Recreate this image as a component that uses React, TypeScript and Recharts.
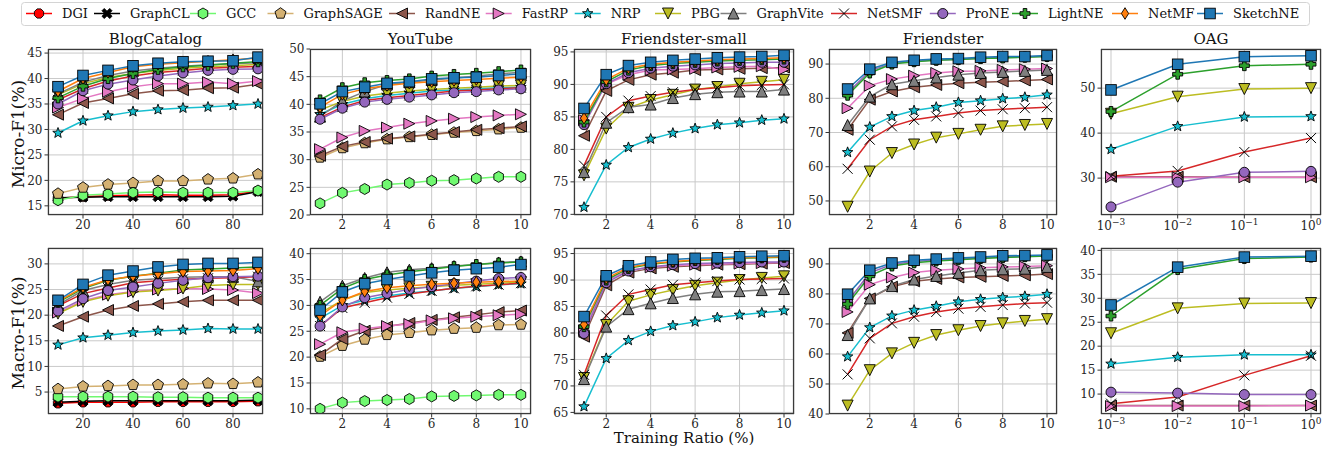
import React from "react";
import { LineChart, Line, XAxis, YAxis, CartesianGrid } from "recharts";

const FONT = "DejaVu Serif";

const methods = ["DGI", "GraphCL", "GCC", "GraphSAGE", "RandNE", "FastRP", "NRP", "PBG", "GraphVite", "NetSMF", "ProNE", "LightNE", "NetMF", "SketchNE"];
const colors: Record<string, string> = {
  DGI: "#ff0000", GraphCL: "#000000", GCC: "#70f870", GraphSAGE: "#d4b172", RandNE: "#8c564b",
  FastRP: "#e377c2", NRP: "#17becf", PBG: "#bcbd22", GraphVite: "#7f7f7f", NetSMF: "#d62728",
  ProNE: "#9467bd", LightNE: "#2ca02c", NetMF: "#ff7f0e", SketchNE: "#1f77b4",
};
const markers: Record<string, string> = {
  DGI: "octagon", GraphCL: "Xfill", GCC: "hexagon", GraphSAGE: "pentagon", RandNE: "left",
  FastRP: "right", NRP: "star", PBG: "down", GraphVite: "up", NetSMF: "x",
  ProNE: "circle", LightNE: "plus", NetMF: "diamond", SketchNE: "square",
};

// x values
const blogX = [10, 20, 30, 40, 50, 60, 70, 80, 90];
const ratioX = [1, 2, 3, 4, 5, 6, 7, 8, 9, 10];
const oagX = [0.001, 0.01, 0.1, 1];

// Micro-F1
const blogMicro: Record<string, number[]> = {
  DGI: [16.5, 16.8, 17.0, 17.1, 17.2, 17.1, 17.1, 17.2, 17.9],
  GraphCL: [16.6, 16.7, 16.8, 16.8, 16.8, 16.8, 16.8, 16.9, 17.8],
  GCC: [16.1, 17.1, 17.3, 17.6, 17.7, 17.6, 17.6, 17.6, 18.0],
  GraphSAGE: [17.4, 18.6, 19.2, 19.5, 19.9, 19.9, 20.2, 20.4, 21.2],
  RandNE: [32.9, 35.2, 36.1, 37.0, 37.6, 37.7, 38.1, 38.2, 38.9],
  FastRP: [34.3, 36.1, 37.4, 38.4, 39.0, 39.0, 39.3, 39.0, 39.5],
  NRP: [29.3, 31.7, 32.7, 33.5, 33.9, 34.2, 34.4, 34.7, 35.0],
  PBG: [36.8, 39.0, 40.2, 41.0, 41.6, 42.0, 42.3, 42.5, 42.8],
  GraphVite: [37.0, 39.3, 40.6, 41.5, 42.0, 42.4, 42.7, 42.9, 43.1],
  NetSMF: [35.8, 38.0, 39.5, 40.5, 41.2, 41.6, 42.0, 42.2, 42.4],
  ProNE: [35.0, 37.6, 38.9, 39.7, 40.5, 41.1, 41.6, 41.8, 41.9],
  LightNE: [36.2, 38.5, 40.0, 41.0, 41.8, 42.3, 42.6, 43.0, 43.3],
  NetMF: [37.5, 40.0, 41.2, 42.3, 42.8, 43.1, 43.4, 43.7, 44.0],
  SketchNE: [38.4, 40.6, 41.6, 42.5, 43.0, 43.3, 43.4, 43.5, 44.2],
};
const youtubeMicro: Record<string, number[]> = {
  GCC: [22.1, 24.0, 24.7, 25.5, 25.8, 26.2, 26.3, 26.6, 26.9, 26.9],
  GraphSAGE: [30.4, 32.1, 33.0, 33.7, 34.1, 34.5, 34.9, 35.2, 35.5, 35.8],
  RandNE: [30.7, 32.4, 33.2, 33.8, 34.2, 34.6, 35.0, 35.4, 35.7, 36.0],
  FastRP: [31.9, 34.0, 35.2, 35.8, 36.5, 37.0, 37.4, 37.7, 38.0, 38.2],
  NRP: [38.2, 40.0, 41.0, 41.6, 42.0, 42.4, 42.6, 42.8, 43.0, 43.1],
  PBG: [39.0, 40.5, 41.5, 42.0, 42.4, 42.7, 42.9, 43.1, 43.3, 43.4],
  GraphVite: [37.8, 40.6, 42.3, 43.6, 44.0, 44.4, 44.7, 45.1, 45.5, 45.8],
  NetSMF: [37.6, 39.5, 40.7, 41.2, 41.6, 42.0, 42.4, 42.6, 42.8, 43.0],
  ProNE: [37.3, 39.3, 40.4, 40.9, 41.3, 41.7, 42.1, 42.3, 42.6, 42.8],
  LightNE: [40.8, 43.0, 43.9, 44.3, 44.6, 45.1, 45.4, 45.6, 45.9, 46.2],
  NetMF: [39.5, 41.8, 42.8, 43.4, 43.8, 44.1, 44.3, 44.5, 44.7, 44.9],
  SketchNE: [40.1, 42.3, 43.1, 43.8, 44.1, 44.6, 44.8, 44.9, 45.2, 45.5],
};
const fsmallMicro: Record<string, number[]> = {
  RandNE: [82.1, 89.0, 90.7, 91.5, 91.8, 92.2, 92.3, 92.4, 92.5, 92.6],
  FastRP: [84.5, 90.0, 91.5, 92.2, 92.3, 92.4, 92.6, 92.7, 92.8, 92.3],
  NRP: [71.1, 77.6, 80.3, 81.6, 82.5, 83.2, 83.8, 84.1, 84.5, 84.7],
  PBG: [76.0, 83.2, 86.4, 87.6, 88.4, 89.2, 89.6, 90.1, 90.4, 90.7],
  GraphVite: [76.5, 84.1, 86.5, 86.9, 87.9, 88.5, 88.8, 88.9, 88.9, 89.2],
  NetSMF: [77.5, 85.0, 87.5, 88.2, 88.8, 89.2, 89.5, 89.8, 89.9, 90.0],
  ProNE: [83.8, 90.1, 91.8, 92.5, 92.8, 93.0, 93.2, 93.3, 93.4, 93.4],
  LightNE: [84.2, 90.4, 92.2, 92.9, 93.2, 93.4, 93.6, 93.7, 93.8, 93.9],
  NetMF: [84.8, 90.7, 92.5, 93.1, 93.4, 93.6, 93.8, 93.9, 94.0, 94.1],
  SketchNE: [86.3, 91.5, 92.9, 93.4, 93.7, 93.9, 94.1, 94.2, 94.3, 94.5],
};
const friendsterMicro: Record<string, number[]> = {
  RandNE: [70.8, 79.6, 82.0, 83.2, 83.9, 84.4, 84.7, 84.9, 85.2, 85.5],
  FastRP: [77.1, 83.7, 85.6, 86.6, 87.4, 87.9, 88.0, 88.3, 88.5, 88.7],
  NRP: [64.2, 71.6, 74.7, 76.4, 77.4, 78.8, 79.3, 79.9, 80.3, 81.0],
  PBG: [48.3, 58.6, 64.0, 66.5, 68.5, 69.6, 70.8, 71.8, 72.2, 72.5],
  GraphVite: [72.2, 80.5, 84.1, 85.1, 86.1, 86.9, 87.4, 87.7, 88.0, 88.3],
  NetSMF: [59.4, 67.9, 71.8, 73.7, 74.7, 75.7, 76.4, 76.8, 77.1, 77.4],
  ProNE: [81.5, 88.0, 90.2, 90.9, 91.2, 91.4, 91.7, 91.9, 92.1, 92.3],
  LightNE: [80.9, 87.4, 90.0, 90.7, 91.1, 91.3, 91.6, 91.8, 92.0, 92.2],
  SketchNE: [82.7, 88.5, 90.5, 91.1, 91.5, 91.6, 92.0, 92.2, 92.2, 92.5],
};
const oagMicro: Record<string, number[]> = {
  RandNE: [30.3, 30.3, 30.2, 30.2],
  FastRP: [30.2, 30.2, 30.2, 30.2],
  NRP: [36.4, 41.5, 43.6, 43.7],
  PBG: [44.3, 48.1, 49.8, 50.0],
  NetSMF: [30.4, 31.6, 35.8, 38.9],
  ProNE: [23.6, 29.1, 31.3, 31.5],
  LightNE: [44.8, 53.1, 55.0, 55.3],
  SketchNE: [49.6, 55.3, 57.0, 57.2],
};

// Macro-F1
const blogMacro: Record<string, number[]> = {
  DGI: [2.8, 3.0, 3.0, 3.0, 3.1, 3.1, 3.1, 3.1, 3.2],
  GraphCL: [3.0, 3.2, 3.3, 3.3, 3.3, 3.3, 3.3, 3.3, 3.4],
  GCC: [4.1, 4.1, 4.1, 4.1, 4.0, 4.0, 3.9, 3.9, 3.9],
  GraphSAGE: [5.6, 6.1, 6.2, 6.4, 6.4, 6.5, 6.7, 6.6, 6.9],
  RandNE: [17.9, 19.7, 21.0, 21.8, 22.2, 22.6, 22.9, 22.9, 22.9],
  FastRP: [20.5, 22.8, 24.0, 24.6, 25.0, 25.2, 25.1, 24.9, 24.3],
  NRP: [14.2, 15.6, 16.1, 16.6, 16.9, 17.1, 17.4, 17.3, 17.3],
  PBG: [20.3, 22.6, 23.8, 24.5, 24.8, 25.2, 25.8, 26.0, 26.0],
  GraphVite: [22.0, 24.8, 26.0, 26.8, 27.1, 27.4, 27.5, 27.5, 26.6],
  NetSMF: [21.8, 24.2, 25.3, 26.3, 26.7, 27.0, 27.2, 27.3, 27.5],
  ProNE: [20.8, 23.2, 24.8, 25.5, 26.2, 26.8, 27.3, 27.5, 27.6],
  LightNE: [22.5, 25.2, 26.8, 27.6, 28.2, 28.8, 29.0, 29.2, 29.4],
  NetMF: [22.7, 25.4, 26.9, 27.6, 28.1, 28.5, 28.6, 28.7, 29.1],
  SketchNE: [22.9, 26.0, 27.8, 28.6, 29.4, 29.9, 30.1, 30.1, 30.3],
};
const youtubeMacro: Record<string, number[]> = {
  GCC: [10.0, 11.2, 11.5, 11.7, 11.9, 12.4, 12.5, 12.6, 12.7, 12.7],
  GraphSAGE: [20.1, 22.2, 23.4, 24.3, 24.7, 25.2, 25.5, 25.7, 26.2, 26.3],
  RandNE: [20.4, 23.5, 25.1, 25.9, 26.6, 27.2, 27.7, 28.2, 28.7, 29.0],
  FastRP: [22.5, 24.8, 25.5, 26.0, 26.4, 27.1, 27.5, 27.8, 28.1, 28.3],
  NRP: [27.5, 30.0, 31.0, 31.8, 32.4, 32.8, 33.3, 33.6, 34.0, 34.2],
  PBG: [28.5, 31.0, 32.5, 33.0, 33.3, 33.6, 33.9, 34.1, 34.3, 34.5],
  GraphVite: [30.7, 33.8, 35.3, 36.4, 36.9, 37.2, 37.6, 37.9, 38.3, 38.5],
  NetSMF: [26.0, 29.5, 30.5, 31.5, 32.2, 32.8, 33.3, 33.7, 34.0, 34.3],
  ProNE: [26.0, 29.7, 31.5, 32.3, 33.1, 33.6, 34.2, 34.7, 35.2, 35.4],
  LightNE: [30.0, 33.3, 35.0, 35.9, 36.5, 37.0, 37.5, 37.9, 38.2, 38.4],
  NetMF: [28.0, 31.0, 32.7, 33.4, 33.8, 34.1, 34.3, 34.5, 34.6, 34.7],
  SketchNE: [29.1, 32.6, 34.2, 35.0, 35.7, 36.3, 36.8, 37.1, 37.4, 37.9],
};
const fsmallMacro: Record<string, number[]> = {
  RandNE: [79.3, 89.0, 91.4, 92.2, 92.5, 92.7, 92.9, 93.0, 93.1, 93.2],
  FastRP: [80.5, 89.8, 91.8, 92.4, 92.7, 92.9, 93.0, 93.1, 93.2, 93.3],
  NRP: [66.1, 75.2, 78.6, 80.3, 81.4, 82.1, 82.9, 83.4, 83.8, 84.2],
  PBG: [71.5, 81.5, 86.0, 87.2, 88.1, 88.9, 89.5, 90.0, 90.4, 90.7],
  GraphVite: [71.3, 81.2, 84.5, 85.6, 86.6, 87.3, 87.8, 87.9, 88.1, 88.3],
  NetSMF: [72.1, 83.3, 87.3, 88.2, 89.1, 89.5, 89.8, 90.1, 90.2, 90.3],
  ProNE: [79.9, 89.5, 91.7, 92.5, 92.9, 93.1, 93.2, 93.3, 93.4, 93.4],
  LightNE: [81.2, 90.0, 92.2, 93.0, 93.4, 93.7, 93.9, 94.1, 94.2, 94.3],
  NetMF: [81.6, 90.3, 92.4, 93.1, 93.5, 93.8, 94.0, 94.2, 94.3, 94.4],
  SketchNE: [83.1, 90.8, 92.7, 93.4, 93.9, 94.1, 94.2, 94.4, 94.5, 94.6],
};
const friendsterMacro: Record<string, number[]> = {
  RandNE: [67.0, 78.5, 82.4, 84.2, 85.0, 85.5, 85.7, 86.0, 86.2, 86.6],
  FastRP: [74.0, 83.1, 85.5, 87.1, 87.9, 88.3, 88.7, 89.0, 89.1, 89.4],
  NRP: [59.1, 68.8, 72.7, 74.6, 75.9, 77.4, 78.2, 78.8, 79.2, 79.9],
  PBG: [42.8, 54.6, 60.2, 63.7, 66.3, 67.9, 69.3, 70.2, 71.0, 71.6],
  GraphVite: [66.3, 78.5, 82.6, 84.8, 86.0, 87.0, 87.9, 88.2, 88.4, 89.0],
  NetSMF: [53.2, 65.2, 70.2, 72.4, 74.0, 75.1, 75.7, 76.3, 76.8, 77.1],
  ProNE: [77.5, 87.0, 89.8, 90.8, 91.3, 91.7, 92.0, 92.3, 92.5, 92.7],
  LightNE: [76.6, 86.0, 89.3, 90.4, 91.0, 91.4, 91.8, 92.1, 92.4, 92.6],
  SketchNE: [79.9, 87.9, 90.3, 91.2, 91.6, 92.0, 92.3, 92.7, 92.8, 93.0],
};
const oagMacro: Record<string, number[]> = {
  RandNE: [7.6, 7.6, 7.6, 7.6],
  FastRP: [7.5, 7.5, 7.5, 7.6],
  NRP: [16.3, 17.7, 18.2, 18.2],
  PBG: [22.7, 27.9, 28.9, 29.0],
  NetSMF: [8.0, 9.4, 13.9, 18.0],
  ProNE: [10.4, 10.2, 9.9, 9.9],
  LightNE: [26.3, 36.0, 38.3, 38.6],
  SketchNE: [28.6, 36.5, 38.6, 38.8],
};

const blogTicks = [20, 40, 60, 80];
const ratioTicks = [2, 4, 6, 8, 10];
const oagTicks = [0.001, 0.01, 0.1, 1];
const oagMinor = [2, 3, 4, 5, 6, 7, 8, 9].flatMap((m) => [m * 0.001, m * 0.01, m * 0.1]);

type Panel = {
  title?: string; xs: number[]; vals: Record<string, number[]>;
  xDomain: [number, number]; xTicks: number[]; yDomain: [number, number]; yTicks: number[];
  left: number; top: number; w: number; h: number; log?: boolean;
};

const cols = [
  { left: 48, w: 215 },
  { left: 310, w: 221 },
  { left: 574, w: 220 },
  { left: 829, w: 228 },
  { left: 1101, w: 220 },
];
const rowTop = [49, 248];
const PH = 166;
const ratioDom: [number, number] = [0.55, 10.45];
const logDom: [number, number] = [Math.pow(10, -3.15), Math.pow(10, 0.15)];

const panels: Panel[] = [
  { title: "BlogCatalog", xs: blogX, vals: blogMicro, xDomain: [6, 92], xTicks: blogTicks, yDomain: [13.2, 45.8], yTicks: [15, 20, 25, 30, 35, 40, 45], ...cols[0], top: rowTop[0], h: PH },
  { title: "YouTube", xs: ratioX, vals: youtubeMicro, xDomain: ratioDom, xTicks: ratioTicks, yDomain: [20, 50], yTicks: [20, 25, 30, 35, 40, 45, 50], ...cols[1], top: rowTop[0], h: PH },
  { title: "Friendster-small", xs: ratioX, vals: fsmallMicro, xDomain: ratioDom, xTicks: ratioTicks, yDomain: [69.9, 95.45], yTicks: [70, 75, 80, 85, 90, 95], ...cols[2], top: rowTop[0], h: PH },
  { title: "Friendster", xs: ratioX, vals: friendsterMicro, xDomain: [0.16, 10.45], xTicks: ratioTicks, yDomain: [45.9, 94.4], yTicks: [50, 60, 70, 80, 90], ...cols[3], top: rowTop[0], h: PH },
  { title: "OAG", xs: oagX, vals: oagMicro, xDomain: logDom, xTicks: oagTicks, yDomain: [21.8, 58.7], yTicks: [30, 40, 50], ...cols[4], top: rowTop[0], h: PH, log: true },
  { xs: blogX, vals: blogMacro, xDomain: [6, 92], xTicks: blogTicks, yDomain: [0.72, 33.1], yTicks: [5, 10, 15, 20, 25, 30], ...cols[0], top: rowTop[1], h: PH },
  { xs: ratioX, vals: youtubeMacro, xDomain: ratioDom, xTicks: ratioTicks, yDomain: [9, 41.1], yTicks: [10, 15, 20, 25, 30, 35, 40], ...cols[1], top: rowTop[1], h: PH },
  { xs: ratioX, vals: fsmallMacro, xDomain: ratioDom, xTicks: ratioTicks, yDomain: [64.7, 96.05], yTicks: [65, 70, 75, 80, 85, 90, 95], ...cols[2], top: rowTop[1], h: PH },
  { xs: ratioX, vals: friendsterMacro, xDomain: [0.16, 10.45], xTicks: ratioTicks, yDomain: [40, 95.3], yTicks: [40, 50, 60, 70, 80, 90], ...cols[3], top: rowTop[1], h: PH },
  { xs: oagX, vals: oagMacro, xDomain: logDom, xTicks: oagTicks, yDomain: [5.84, 40.5], yTicks: [10, 15, 20, 25, 30, 35, 40], ...cols[4], top: rowTop[1], h: PH, log: true },
];

function pts(list: number[][], cx: number, cy: number) {
  return list.map(([x, y]) => `${cx + x},${cy + y}`).join(" ");
}
function regular(n: number, r: number, start: number) {
  const out: number[][] = [];
  for (let i = 0; i < n; i++) {
    const a = start + (i * 2 * Math.PI) / n;
    out.push([r * Math.cos(a), r * Math.sin(a)]);
  }
  return out;
}
function cross(a: number, r: number, rot: number) {
  const base = [[-a, -r], [a, -r], [a, -a], [r, -a], [r, a], [a, a], [a, r], [-a, r], [-a, a], [-r, a], [-r, -a], [-a, -a]];
  const c = Math.cos(rot), s = Math.sin(rot);
  return base.map(([x, y]) => [x * c - y * s, x * s + y * c]);
}
function star(ro: number, ri: number) {
  const out: number[][] = [];
  for (let i = 0; i < 10; i++) {
    const r = i % 2 === 0 ? ro : ri;
    const a = -Math.PI / 2 + (i * Math.PI) / 5;
    out.push([r * Math.cos(a), r * Math.sin(a)]);
  }
  return out;
}

function Marker({ kind, cx, cy, fill }: { kind: string; cx: number; cy: number; fill: string }) {
  const e = { stroke: "#000", strokeWidth: 0.9, fill };
  switch (kind) {
    case "circle": return <circle cx={cx} cy={cy} r={5} {...e} />;
    case "octagon": return <polygon points={pts(regular(8, 5, Math.PI / 8), cx, cy)} {...e} />;
    case "hexagon": return <polygon points={pts(regular(6, 5.5, -Math.PI / 2), cx, cy)} {...e} />;
    case "pentagon": return <polygon points={pts(regular(5, 5.8, -Math.PI / 2), cx, cy)} {...e} />;
    case "up": return <polygon points={pts([[0, -5.5], [5.5, 5.5], [-5.5, 5.5]], cx, cy)} {...e} />;
    case "down": return <polygon points={pts([[0, 5.5], [5.5, -5.5], [-5.5, -5.5]], cx, cy)} {...e} />;
    case "left": return <polygon points={pts([[-5.5, 0], [5.5, -5.5], [5.5, 5.5]], cx, cy)} {...e} />;
    case "right": return <polygon points={pts([[5.5, 0], [-5.5, -5.5], [-5.5, 5.5]], cx, cy)} {...e} />;
    case "star": return <polygon points={pts(star(5.5, 2.3), cx, cy)} {...e} />;
    case "x": return <path d={`M${cx - 5},${cy - 5}L${cx + 5},${cy + 5}M${cx - 5},${cy + 5}L${cx + 5},${cy - 5}`} stroke="#000" strokeWidth={1} fill="none" />;
    case "Xfill": return <polygon points={pts(cross(1.6, 5.5, Math.PI / 4), cx, cy)} {...e} />;
    case "plus": return <polygon points={pts(cross(1.8, 5, 0), cx, cy)} {...e} />;
    case "diamond": return <polygon points={pts([[0, -5.8], [3.6, 0], [0, 5.8], [-3.6, 0]], cx, cy)} {...e} />;
    case "square": return <rect x={cx - 5.3} y={cy - 5.3} width={10.6} height={10.6} {...e} />;
    default: return null;
  }
}

const tickStyle = { fontSize: 12, fill: "#262626", fontFamily: FONT };

const LogTick = (props: any) => {
  const { x, y, payload } = props;
  const ex = Math.round(Math.log10(payload.value));
  return (
    <text x={x} y={y} dy={9} textAnchor="middle" fontSize={12} fill="#262626" fontFamily={FONT}>
      <tspan>10</tspan>
      <tspan dy={-5} fontSize={9}>{ex < 0 ? `\u2212${-ex}` : `${ex}`}</tspan>
    </text>
  );
};

function PanelChart({ p }: { p: Panel }) {
  const data = p.xs.map((x, i) => {
    const row: Record<string, number> = { x };
    for (const m of methods) if (p.vals[m]) row[m] = p.vals[m][i];
    return row;
  });
  const shown = methods.filter((m) => p.vals[m]);
  return (
    <div style={{ position: "absolute", left: p.left - 40, top: p.top - 6 }}>
      <LineChart width={p.w + 46} height={p.h + 30} data={data} margin={{ top: 6, right: 6, left: 0, bottom: 0 }}>
        <CartesianGrid stroke="#c9c9c9" strokeWidth={1} />
        {p.log && (
          <XAxis xAxisId="minor" dataKey="x" type="number" scale="log" domain={p.xDomain} ticks={oagMinor}
            allowDataOverflow tick={false} tickSize={2} axisLine={false} height={0} stroke="#333" interval={0} />
        )}
        <XAxis dataKey="x" type="number" scale={p.log ? "log" : "linear"} domain={p.xDomain} ticks={p.xTicks}
          allowDataOverflow axisLine={false} tickSize={3.5} tickMargin={2} height={24} stroke="#333" interval={0}
          tick={p.log ? <LogTick /> : tickStyle} />
        <YAxis type="number" domain={p.yDomain} ticks={p.yTicks} allowDataOverflow width={40} axisLine={false}
          tickSize={3.5} tickMargin={2} stroke="#333" interval={0} tick={tickStyle} />
        {shown.map((m) => (
          <Line key={m} dataKey={m} stroke={colors[m]} strokeWidth={1.5} isAnimationActive={false} activeDot={false}
            dot={(d: any) => <Marker key={`${m}-${d.index}`} kind={markers[m]} cx={d.cx} cy={d.cy} fill={colors[m]} />} />
        ))}
      </LineChart>
    </div>
  );
}

const legendPos = [39, 107, 203, 280.5, 402, 498.7, 587.7, 668, 733.5, 844, 942.8, 1025, 1125, 1210];
const LY = 13.5;

export default function App() {
  return (
    <div style={{ position: "absolute", left: 0, top: 0, width: 1336, height: 452, background: "#fff", overflow: "hidden" }}>
      {panels.map((p, i) => <PanelChart key={i} p={p} />)}
      <svg width={1336} height={452} style={{ position: "absolute", left: 0, top: 0, pointerEvents: "none" }}>
        {panels.map((p, i) => (
          <rect key={`sp${i}`} x={p.left + 0.5} y={p.top + 0.5} width={p.w - 1} height={p.h - 1} fill="none" stroke="#3a3a3a" strokeWidth={1.2} />
        ))}
        {panels.filter((p) => p.title).map((p) => (
          <text key={p.title} x={p.left + p.w / 2} y={44} textAnchor="middle" fontSize={15} fontFamily={FONT} fill="#111">{p.title}</text>
        ))}
        <text transform="translate(24,134) rotate(-90)" textAnchor="middle" fontSize={17} fontFamily={FONT} fill="#111">Micro-F1(%)</text>
        <text transform="translate(24,333) rotate(-90)" textAnchor="middle" fontSize={17} fontFamily={FONT} fill="#111">Macro-F1(%)</text>
        <text x={684} y={443} textAnchor="middle" fontSize={15} fontFamily={FONT} fill="#111">Training Ratio (%)</text>
        <rect x={21.5} y={2.5} width={1288} height={23} rx={3} fill="#fff" stroke="#d4d4d4" strokeWidth={1} />
        {methods.map((m, i) => {
          const c = legendPos[i];
          return (
            <g key={m}>
              <line x1={c - 13} x2={c + 13} y1={LY} y2={LY} stroke={colors[m]} strokeWidth={1.5} />
              <Marker kind={markers[m]} cx={c} cy={LY} fill={colors[m]} />
              <text x={c + 23} y={LY + 4.5} fontSize={13} fontFamily={FONT} fill="#111">{m}</text>
            </g>
          );
        })}
      </svg>
    </div>
  );
}
